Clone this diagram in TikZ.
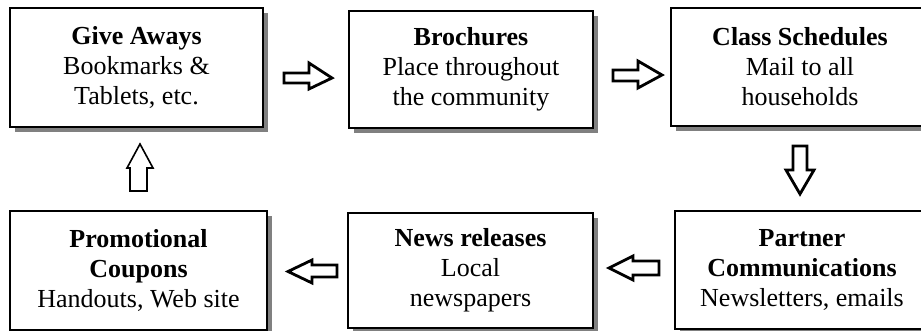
\documentclass[tikz,border=0pt]{standalone}
\usepackage{fontspec}
\setmainfont{Liberation Serif}
\usetikzlibrary{shadows}
\begin{document}
\begin{tikzpicture}[x=1pt,y=-1pt,
  box/.style={draw, line width=1.6pt, fill=white, align=center, inner sep=0pt,
    font={\fontsize{26}{30}\selectfont},
    drop shadow={shadow xshift=5pt, shadow yshift=-5pt, fill=black!50, opacity=1}},
  blockarrow/.style={draw, line width=2.8pt, fill=white, line join=miter},
  thinarrow/.style={draw, line width=1.6pt, fill=white, line join=miter}]
\useasboundingbox (0,0) rectangle (921,331);

\node[box, minimum width=253pt, minimum height=119pt] (b1) at (136.5,67.5)
  {\textbf{Give Aways}\\Bookmarks \&\\Tablets, etc.};
\node[box, minimum width=244pt, minimum height=117pt] (b2) at (471,69.5)
  {\textbf{Brochures}\\Place throughout\\the community};
\node[box, minimum width=258pt, minimum height=118pt] (b3) at (800,67)
  {\textbf{Class Schedules}\\Mail to all\\households};
\node[box, minimum width=254pt, minimum height=118pt] (b4) at (802,270)
  {\textbf{Partner}\\\textbf{Communications}\\Newsletters, emails};
\node[box, minimum width=245pt, minimum height=115pt] (b5) at (470.5,270.5)
  {\textbf{News releases}\\Local\\newspapers};
\node[box, minimum width=257pt, minimum height=119pt] (b6) at (138.5,270.5)
  {\textbf{Promotional}\\\textbf{Coupons}\\Handouts, Web site};

% right arrow b1 -> b2
\path[blockarrow] (284,73) -- (309,73) -- (309,63) -- (332,78) -- (309,89) -- (309,83) -- (284,83) -- cycle;
% right arrow b2 -> b3
\path[blockarrow] (613,70) -- (638,70) -- (638,61) -- (662,75) -- (638,88) -- (638,81) -- (613,81) -- cycle;
% down arrow b3 -> b4
\path[blockarrow] (793,146) -- (807,146) -- (807,170) -- (814,170) -- (800,194) -- (786,170) -- (793,170) -- cycle;
% left arrow b4 -> b5
\path[blockarrow] (659,261) -- (633,261) -- (633,256) -- (609,268) -- (633,280) -- (633,275) -- (659,275) -- cycle;
% left arrow b5 -> b6
\path[blockarrow] (337,265) -- (312,265) -- (312,260) -- (288,271.5) -- (312,283) -- (312,277) -- (337,277) -- cycle;
% up arrow b6 -> b1
\path[thinarrow] (130,191) -- (130,168) -- (127,168) -- (140,144) -- (153,168) -- (147,168) -- (147,191) -- cycle;
\end{tikzpicture}
\end{document}
